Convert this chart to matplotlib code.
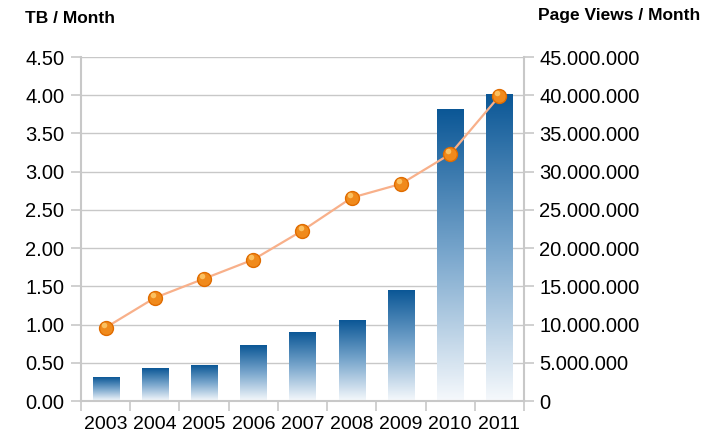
import numpy as np
import matplotlib
matplotlib.use("Agg")
import matplotlib.pyplot as plt
from matplotlib.colors import LinearSegmentedColormap
from matplotlib.ticker import FuncFormatter, MultipleLocator

# TB per month (bars) and page views per month (line)
years = ["2003", "2004", "2005", "2006", "2007", "2008", "2009", "2010", "2011"]
tb_month = [0.31, 0.42, 0.46, 0.73, 0.90, 1.05, 1.44, 3.81, 4.01]
page_views = [9.6e6, 13.5e6, 16.0e6, 18.5e6, 22.3e6, 26.6e6, 28.4e6, 32.3e6, 39.9e6]

plt.rcParams['font.family'] = ['Liberation Sans', 'DejaVu Sans']
grid_col = '#c8c8c8'

fig = plt.figure(figsize=(7.06, 4.34), dpi=100)
ax = fig.add_axes([0.1147, 0.076, 0.6275, 0.7926])
x = np.arange(len(years))

# bars with a vertical gradient (dark top, white bottom)
cmap = LinearSegmentedColormap.from_list('bar', ['#f6f9fc', '#7aa7cd', '#0b5796'])
grad = np.linspace(0, 1, 256).reshape(-1, 1)
w = 0.53
for xi, h in zip(x, tb_month):
    ax.imshow(grad, extent=[xi - w / 2, xi + w / 2, 0, h], origin='lower',
              cmap=cmap, aspect='auto', zorder=2)
ax.set_xlim(-0.5, len(years) - 0.5)
ax.set_ylim(0, 4.5)

ax.yaxis.set_major_locator(MultipleLocator(0.5))
ax.yaxis.set_major_formatter(FuncFormatter(lambda v, p: f"{v:.2f}"))
ax.grid(axis='y', color=grid_col, linewidth=1, zorder=0)
ax.set_axisbelow(True)

ax.set_xticks(np.arange(-0.5, len(years), 1.0))
ax.set_xticklabels([])
ax.set_xticks(x, minor=True)
ax.set_xticklabels(years, minor=True)
ax.tick_params(axis='x', which='major', length=7, color=grid_col, width=1.2)
ax.tick_params(axis='x', which='minor', length=0, pad=11, labelsize=14)
ax.tick_params(axis='y', length=7, color=grid_col, width=1.2, labelsize=14.5, pad=5)

for s in ['top', 'right']:
    ax.spines[s].set_visible(False)
for s in ['left', 'bottom']:
    ax.spines[s].set_color(grid_col)
    ax.spines[s].set_linewidth(1.5)

ax2 = ax.twinx()
ax2.set_ylim(0, 45e6)
ax2.yaxis.set_major_locator(MultipleLocator(5e6))
ax2.yaxis.set_major_formatter(FuncFormatter(lambda v, p: f"{int(v):,}".replace(',', '.')))
ax2.tick_params(axis='y', length=7, color=grid_col, width=1.2, labelsize=14.5, pad=4)
for s in ['top', 'left', 'bottom']:
    ax2.spines[s].set_visible(False)
ax2.spines['right'].set_color(grid_col)
ax2.spines['right'].set_linewidth(1.5)

ax2.plot(x, page_views, color='#f8b08a', linewidth=1.6, zorder=3)
ax2.plot(x, page_views, 'o', markersize=10, markerfacecolor='#f08a1c',
         markeredgecolor='#e06c00', markeredgewidth=1, zorder=4)
ax2.plot(np.array(x) - 0.04, np.array(page_views) + 0.35e6, 'o', markersize=4,
         markerfacecolor='#fbc060', markeredgewidth=0, zorder=5)

fig.text(0.035, 0.958, "TB / Month", fontsize=12.5, fontweight='bold', va='center')
fig.text(0.762, 0.965, "Page Views / Month", fontsize=12.5, fontweight='bold', va='center')

fig.savefig("out.png", dpi=100)
